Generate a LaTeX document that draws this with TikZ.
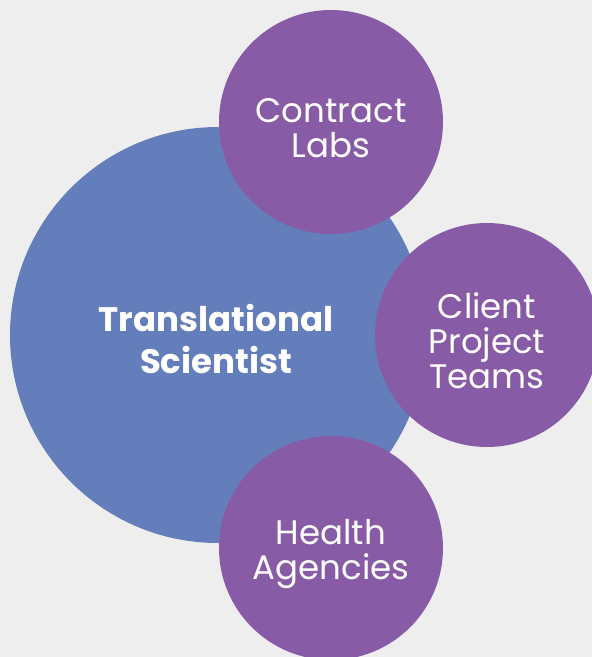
\documentclass[tikz,border=0pt]{standalone}
\usepackage{fontspec}
\setmainfont{Poppins}
\definecolor{bggray}{HTML}{EEEEEE}
\definecolor{scientistblue}{HTML}{647DBB}
\definecolor{partnerpurple}{HTML}{875BA5}
\tikzset{
    hub/.style={circle, fill=scientistblue, minimum size=416pt, inner sep=0pt},
    hubtext/.style={text=white, align=center, font=\bfseries\fontsize{34}{42}\selectfont},
    partner/.style={circle, fill=partnerpurple, minimum size=224pt, inner sep=0pt},
    partnertext/.style={text=white, align=center, font=\fontsize{34}{35}\selectfont}
}
\begin{document}
\begin{tikzpicture}[x=1pt, y=-1pt]
                \useasboundingbox (0,0) rectangle (592,657);
                \fill[bggray] (0,0) rectangle (592,657);
                \clip (0,0) rectangle (592,657);
                \node[hub] (scientist) at (218,335) {};
                \node[hubtext] (scientisttext) at ([shift={(-2pt,-4pt)}]scientist.center) {Translational\\Scientist};
                \foreach[count=\i] \px/\py/\txt in {331/122/{Contract\\Labs}, 487/335/{Client\\Project\\Teams}, 331/548/{Health\\Agencies}}
                {
                    \node[partner] (p\i) at (\px,\py) {};
                    \node[partnertext] (t\i) at ([yshift=-6pt]p\i.center) {\txt};
                }
            \end{tikzpicture}
\end{document}
